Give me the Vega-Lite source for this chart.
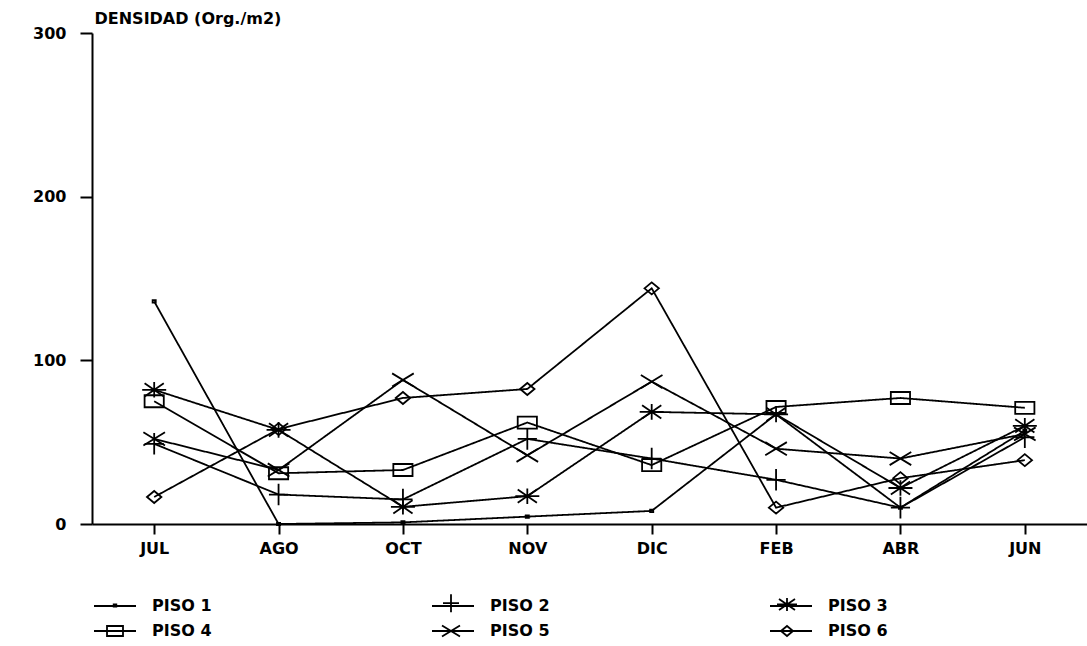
{
  "$schema": "https://vega.github.io/schema/vega-lite/v6.json",
  "width": 995,
  "height": 491,
  "autosize": {"type": "none"},
  "padding": {"left": 92, "top": 33, "right": 0, "bottom": 122},
  "background": "white",
  "config": {
    "view": {"stroke": null},
    "font": "DejaVu Sans",
    "axis": {"domainColor": "black", "domainWidth": 2, "tickColor": "black", "tickWidth": 2, "labelColor": "black", "labelFont": "DejaVu Sans", "labelFontSize": 16, "labelFontWeight": "bold", "grid": false},
    "legend": {"title": null, "orient": "none", "legendX": 0, "legendY": 559, "direction": "horizontal", "columns": 3, "symbolSize": 400, "symbolOffset": 12, "symbolStrokeColor": "black", "symbolStrokeWidth": 1.8, "symbolFillColor": "transparent", "labelOffset": 26, "labelFont": "DejaVu Sans", "labelFontSize": 16, "labelFontWeight": "bold", "labelColor": "black", "columnPadding": 216, "rowPadding": 4}
  },
  "data": {
    "values": [
      {"mes": "JUL", "serie": "PISO 1", "densidad": 136},
      {"mes": "AGO", "serie": "PISO 1", "densidad": 0},
      {"mes": "OCT", "serie": "PISO 1", "densidad": 1},
      {"mes": "NOV", "serie": "PISO 1", "densidad": 4.5},
      {"mes": "DIC", "serie": "PISO 1", "densidad": 8},
      {"mes": "FEB", "serie": "PISO 1", "densidad": 67},
      {"mes": "ABR", "serie": "PISO 1", "densidad": 10},
      {"mes": "JUN", "serie": "PISO 1", "densidad": 57},
      {"mes": "JUL", "serie": "PISO 2", "densidad": 49},
      {"mes": "AGO", "serie": "PISO 2", "densidad": 18},
      {"mes": "OCT", "serie": "PISO 2", "densidad": 15},
      {"mes": "NOV", "serie": "PISO 2", "densidad": 52},
      {"mes": "DIC", "serie": "PISO 2", "densidad": 40},
      {"mes": "FEB", "serie": "PISO 2", "densidad": 27},
      {"mes": "ABR", "serie": "PISO 2", "densidad": 10},
      {"mes": "JUN", "serie": "PISO 2", "densidad": 53},
      {"mes": "JUL", "serie": "PISO 3", "densidad": 82},
      {"mes": "AGO", "serie": "PISO 3", "densidad": 57.5},
      {"mes": "OCT", "serie": "PISO 3", "densidad": 10.5},
      {"mes": "NOV", "serie": "PISO 3", "densidad": 17},
      {"mes": "DIC", "serie": "PISO 3", "densidad": 68.5},
      {"mes": "FEB", "serie": "PISO 3", "densidad": 67},
      {"mes": "ABR", "serie": "PISO 3", "densidad": 22},
      {"mes": "JUN", "serie": "PISO 3", "densidad": 60},
      {"mes": "JUL", "serie": "PISO 4", "densidad": 75},
      {"mes": "AGO", "serie": "PISO 4", "densidad": 31},
      {"mes": "OCT", "serie": "PISO 4", "densidad": 33},
      {"mes": "NOV", "serie": "PISO 4", "densidad": 62},
      {"mes": "DIC", "serie": "PISO 4", "densidad": 36},
      {"mes": "FEB", "serie": "PISO 4", "densidad": 71.5},
      {"mes": "ABR", "serie": "PISO 4", "densidad": 77},
      {"mes": "JUN", "serie": "PISO 4", "densidad": 71},
      {"mes": "JUL", "serie": "PISO 5", "densidad": 52},
      {"mes": "AGO", "serie": "PISO 5", "densidad": 33},
      {"mes": "OCT", "serie": "PISO 5", "densidad": 88},
      {"mes": "NOV", "serie": "PISO 5", "densidad": 42},
      {"mes": "DIC", "serie": "PISO 5", "densidad": 87},
      {"mes": "FEB", "serie": "PISO 5", "densidad": 46},
      {"mes": "ABR", "serie": "PISO 5", "densidad": 40},
      {"mes": "JUN", "serie": "PISO 5", "densidad": 55},
      {"mes": "JUL", "serie": "PISO 6", "densidad": 16.5},
      {"mes": "AGO", "serie": "PISO 6", "densidad": 58},
      {"mes": "OCT", "serie": "PISO 6", "densidad": 77},
      {"mes": "NOV", "serie": "PISO 6", "densidad": 82.5},
      {"mes": "DIC", "serie": "PISO 6", "densidad": 144},
      {"mes": "FEB", "serie": "PISO 6", "densidad": 10},
      {"mes": "ABR", "serie": "PISO 6", "densidad": 28},
      {"mes": "JUN", "serie": "PISO 6", "densidad": 39}
    ]
  },
  "encoding": {
    "x": {
      "field": "mes",
      "type": "nominal",
      "sort": ["JUL", "AGO", "OCT", "NOV", "DIC", "FEB", "ABR", "JUN"],
      "scale": {"type": "point", "padding": 0.5},
      "axis": {"title": null, "labelAngle": 0, "tickSize": 10, "labelPadding": 6, "domainWidth": 2}
    },
    "y": {
      "field": "densidad",
      "type": "quantitative",
      "scale": {"domain": [0, 300], "nice": false, "zero": true},
      "axis": {
        "values": [0, 100, 200, 300],
        "tickSize": 12,
        "labelPadding": 14,
        "title": "DENSIDAD (Org./m2)",
        "titleAngle": 0,
        "titleX": 2,
        "titleY": -10,
        "titleAlign": "left",
        "titleBaseline": "alphabetic",
        "titleFont": "DejaVu Sans",
        "titleFontSize": 16,
        "titleFontWeight": "bold",
        "titleColor": "black"
      }
    }
  },
  "layer": [
    {
      "mark": {"type": "line", "stroke": "black", "strokeWidth": 1.8},
      "encoding": {
        "strokeDash": {
          "field": "serie",
          "type": "nominal",
          "scale": {"range": [[1, 0], [1, 0], [1, 0], [1, 0], [1, 0], [1, 0]]},
          "legend": {"symbolType": "M-2.1,0H2.1", "labelColor": "black", "legendY": 562, "rowPadding": 6}
        }
      }
    },
    {
      "mark": {"type": "point", "filled": false, "color": "black", "stroke": "black", "strokeWidth": 1.8, "size": 576, "opacity": 1},
      "encoding": {
        "shape": {
          "field": "serie",
          "type": "nominal",
          "scale": {
            "domain": ["PISO 1", "PISO 2", "PISO 3", "PISO 4", "PISO 5", "PISO 6"],
            "range": [
              "M-0.13,-0.1H0.13V0.1H-0.13Z",
              "M0,-0.9V0.9M-0.8,0H0.8",
              "M0,-0.65V0.65M-1,0H1M-0.8,-0.55L0.8,0.55M-0.8,0.55L0.8,-0.55",
              "M-0.8,-0.5H0.8V0.5H-0.8Z",
              "M-0.9,-0.55L0.9,0.55M-0.9,0.55L0.9,-0.55",
              "M-0.6,0L0,-0.5L0.6,0L0,0.5Z"
            ]
          },
          "legend": {"labelColor": "transparent"}
        }
      }
    }
  ]
}
